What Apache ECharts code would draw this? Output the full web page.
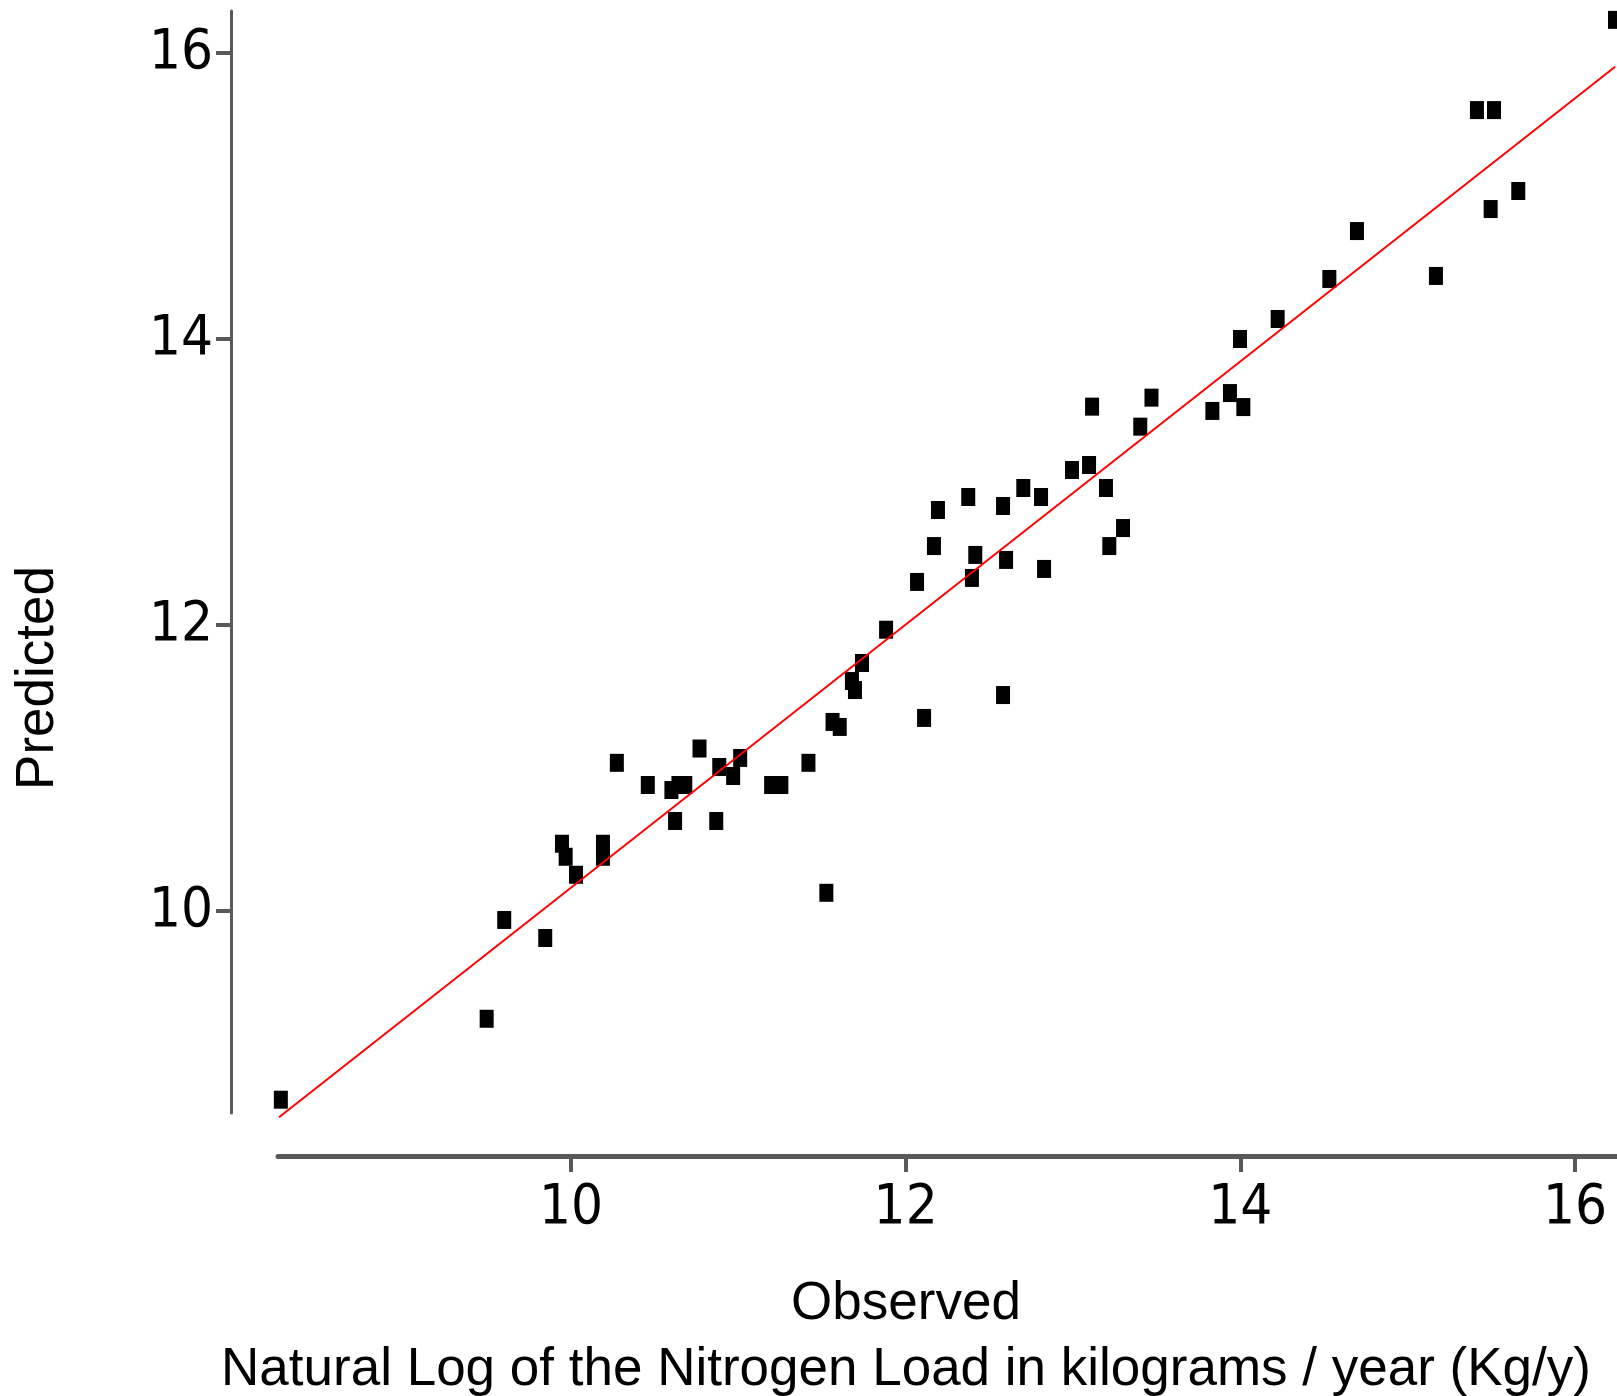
<!DOCTYPE html>
<html>
<head>
<meta charset="utf-8">
<title>Observed vs Predicted</title>
<script src="https://cdn.jsdelivr.net/npm/echarts@6/dist/echarts.min.js"></script>
<style>
  html, body { margin: 0; padding: 0; background: #fff; }
  #chart { width: 1617px; height: 1396px; }
</style>
</head>
<body>
<div id="chart"></div>
<script>
// observed / predicted ln(N load)
const observed = [
  8.266, 9.496, 9.601, 9.846, 9.946, 9.968, 10.030, 10.191, 10.191, 10.274,
  10.459, 10.600, 10.622, 10.642, 10.683, 10.768, 10.868, 10.886, 10.969, 11.011,
  11.196, 11.257, 11.419, 11.526, 11.563, 11.606, 11.679, 11.697, 11.739, 11.883,
  12.068, 12.110, 12.169, 12.193, 12.374, 12.396, 12.416, 12.582, 12.582, 12.600,
  12.703, 12.809, 12.827, 12.994, 13.096, 13.114, 13.197, 13.217, 13.299, 13.402,
  13.469, 13.833, 13.938, 13.998, 14.018, 14.223, 14.532, 14.697, 15.169, 15.414,
  15.496, 15.516, 15.661, 16.239
];
const predicted = [
  8.680, 9.246, 9.937, 9.811, 10.470, 10.379, 10.253, 10.470, 10.379, 11.036,
  10.881, 10.846, 10.629, 10.881, 10.881, 11.136, 10.629, 11.007, 10.944, 11.070,
  10.881, 10.881, 11.036, 10.127, 11.322, 11.287, 11.608, 11.545, 11.734, 11.967,
  12.301, 11.350, 12.552, 12.804, 12.895, 12.329, 12.490, 12.832, 11.510, 12.455,
  12.958, 12.895, 12.392, 13.084, 13.119, 13.527, 12.958, 12.552, 12.678, 13.387,
  13.590, 13.497, 13.622, 14.000, 13.524, 14.140, 14.420, 14.755, 14.441, 15.601,
  14.909, 15.601, 15.035, 16.232
];

// fitted line, end points
const fitObserved = [8.255, 16.24];
const fitPredicted = [8.557, 15.904];

const xTicks = [10, 12, 14, 16];
const yTicks = [10, 12, 14, 16];

const axisColor = '#595959';
const tickFont = "'Liberation Sans Narrow', 'Arial Narrow', 'DejaVu Sans Condensed', sans-serif";
const titleFont = "'Liberation Sans', Arial, sans-serif";

const chart = echarts.init(document.getElementById('chart'), null, { renderer: 'canvas' });

const option = {
  animation: false,
  backgroundColor: '#fff',
  grid: { left: 278, right: 0, top: 11, bottom: 283 },
  xAxis: {
    type: 'value',
    min: 8.249,
    max: 16.251,
    offset: 43,
    splitLine: { show: false },
    axisLine: { show: true, lineStyle: { color: axisColor, width: 5 } },
    axisTick: { show: true, customValues: xTicks, length: 16, lineStyle: { color: axisColor, width: 4 } },
    axisLabel: { customValues: xTicks, margin: 24, color: '#000', fontSize: 56, fontFamily: tickFont }
  },
  yAxis: {
    type: 'value',
    min: 8.587,
    max: 16.294,
    offset: 47,
    splitLine: { show: false },
    axisLine: { show: true, lineStyle: { color: axisColor, width: 3 } },
    axisTick: { show: true, customValues: yTicks, length: 15, lineStyle: { color: axisColor, width: 4 } },
    axisLabel: { customValues: yTicks, margin: 18, padding: [0, 0, 9, 0], color: '#000', fontSize: 56, fontFamily: tickFont }
  },
  series: [
    {
      name: 'fit',
      type: 'line',
      data: fitObserved.map((x, i) => [x, fitPredicted[i]]),
      symbol: 'none',
      clip: false,
      lineStyle: { color: '#ff0000', width: 2 },
      z: 3
    },
    {
      name: 'points',
      type: 'scatter',
      data: observed.map((x, i) => [x, predicted[i]]),
      symbol: 'rect',
      symbolSize: [14, 18],
      clip: false,
      itemStyle: { color: '#000', opacity: 1 },
      z: 2
    }
  ],
  graphic: [
    {
      type: 'text',
      x: 906, y: 1304,
      style: { text: 'Observed', fill: '#000', font: '53px ' + titleFont, textAlign: 'center', textVerticalAlign: 'middle' }
    },
    {
      type: 'text',
      x: 906, y: 1370,
      style: { text: 'Natural Log of the Nitrogen Load in kilograms / year (Kg/y)', fill: '#000', font: '53px ' + titleFont, textAlign: 'center', textVerticalAlign: 'middle' }
    },
    {
      type: 'text',
      x: 38, y: 678,
      rotation: Math.PI / 2,
      style: { text: 'Predicted', fill: '#000', font: '53px ' + titleFont, textAlign: 'center', textVerticalAlign: 'middle' }
    }
  ]
};

chart.setOption(option);
</script>
</body>
</html>
